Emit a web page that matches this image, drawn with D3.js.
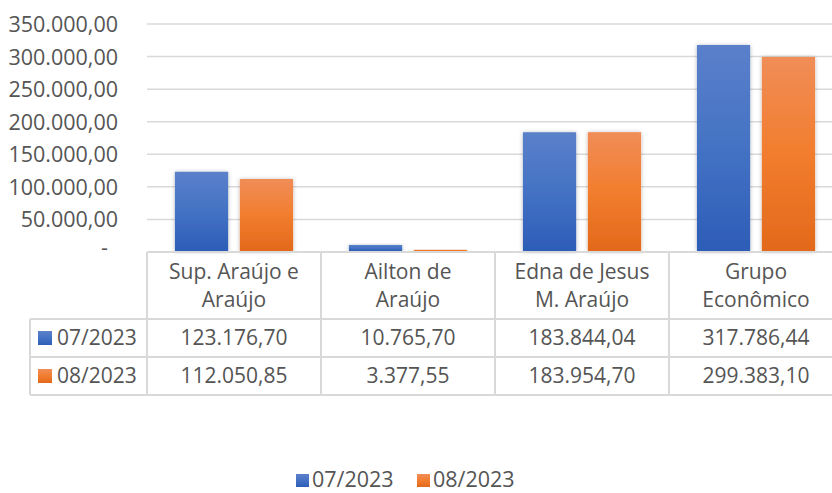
<!DOCTYPE html>
<html>
<head>
<meta charset="utf-8">
<script src="https://cdn.jsdelivr.net/npm/d3@7"></script>
<style>
  html, body { margin: 0; padding: 0; background: #fff; overflow: hidden; }
  svg { display: block; font-family: "Open Sans", "Noto Sans", sans-serif; }
  text { fill: #555; }
</style>
</head>
<body>
<svg id="chart" width="832" height="493"></svg>
<script>
// categorias (quebra de linha como no cabeçalho da tabela)
const categories = ["Sup. Araújo e\nAraújo", "Ailton de\nAraújo", "Edna de Jesus\nM. Araújo", "Grupo\nEconômico"];
const seriesNames = ["07/2023", "08/2023"];
const values0723 = [123176.70, 10765.70, 183844.04, 317786.44];
const values0823 = [112050.85, 3377.55, 183954.70, 299383.10];
const yTicks = [0, 50000, 100000, 150000, 200000, 250000, 300000, 350000];

const series = [
  { name: seriesNames[0], values: values0723 },
  { name: seriesNames[1], values: values0823 }
];

const ptBR = d3.formatLocale({ decimal: ",", thousands: ".", grouping: [3], currency: ["R$", ""] });
const fmt = ptBR.format(",.2f");

const svg = d3.select('#chart');

// --- gradientes e sombra das barras ---
const defs = svg.append('defs');
const grads = [
  { id: 'g0', stops: ['#5b80ca', '#4472c4', '#2d5db7'] },
  { id: 'g1', stops: ['#f08d58', '#f27d2e', '#e2691b'] }
];
grads.forEach(g => {
  const lg = defs.append('linearGradient')
    .attr('id', g.id)
    .attr('x1', 0).attr('y1', 0).attr('x2', 0).attr('y2', 1);
  lg.append('stop').attr('offset', '0%').attr('stop-color', g.stops[0]);
  lg.append('stop').attr('offset', '50%').attr('stop-color', g.stops[1]);
  lg.append('stop').attr('offset', '100%').attr('stop-color', g.stops[2]);
});
const shadow = defs.append('filter').attr('id', 'shadow')
  .attr('x', '-30%').attr('y', '-30%').attr('width', '160%').attr('height', '160%');
shadow.append('feDropShadow')
  .attr('dx', 0).attr('dy', 0.5)
  .attr('stdDeviation', 2)
  .attr('flood-color', '#000')
  .attr('flood-opacity', 0.28);

// --- escalas ---
const plotLeft = 147, plotRight = 843;
const yTop = 24, yZero = 252;

const x = d3.scaleBand()
  .domain(d3.range(categories.length))
  .range([plotLeft, plotRight]);

const x1 = d3.scaleBand()
  .domain(d3.range(series.length))
  .range([0, x.bandwidth()])
  .paddingInner(0.18)
  .paddingOuter(0.43);

const y = d3.scaleLinear()
  .domain([0, 350000])
  .range([yZero, yTop]);

// --- grade ---
svg.append('g')
  .selectAll('line')
  .data(yTicks.filter(d => d > 0))
  .join('line')
  .attr('x1', plotLeft).attr('x2', plotRight)
  .attr('y1', d => y(d)).attr('y2', d => y(d))
  .attr('stroke', '#d9d9d9')
  .attr('stroke-width', 1.5);

// --- eixo Y ---
const yAxis = d3.axisLeft(y)
  .tickValues(yTicks)
  .tickSize(0)
  .tickPadding(0)
  .tickFormat(d => d === 0 ? '-' : fmt(d));

const yg = svg.append('g')
  .attr('transform', 'translate(118,0)')
  .call(yAxis);
yg.select('.domain').remove();
yg.selectAll('text')
  .attr('font-size', 21.5)
  .attr('font-family', '"Open Sans", sans-serif')
  .attr('fill', '#555')
  .attr('dy', '0.35em');
yg.selectAll('.tick').filter(d => d === 0).select('text').attr('dx', -10).attr('dy', '0.1em');

// --- barras ---
const groups = svg.append('g')
  .selectAll('g')
  .data(series)
  .join('g')
  .attr('fill', (d, i) => `url(#g${i})`);

groups.each(function(s, si) {
  d3.select(this).selectAll('rect')
    .data(s.values)
    .join('rect')
    .attr('x', (v, ci) => x(ci) + x1(si))
    .attr('y', v => y(v))
    .attr('width', x1.bandwidth())
    .attr('height', v => yZero - 1 - y(v))
    .attr('filter', 'url(#shadow)');
});

// --- tabela de dados ---
const rowTop = yZero, headerBottom = 319, rowH = 38;
const tableLeft = 30;
const line = '#d9d9d9';
const tbl = svg.append('g').attr('stroke', line).attr('stroke-width', 2);

// linhas horizontais
tbl.append('line').attr('x1', plotLeft).attr('x2', plotRight).attr('y1', rowTop).attr('y2', rowTop);
[0, 1, 2].forEach(r => {
  tbl.append('line')
    .attr('x1', tableLeft).attr('x2', plotRight)
    .attr('y1', headerBottom + r * rowH).attr('y2', headerBottom + r * rowH);
});
// linhas verticais
tbl.append('line').attr('x1', tableLeft).attr('x2', tableLeft)
  .attr('y1', headerBottom).attr('y2', headerBottom + 2 * rowH);
d3.range(categories.length + 1).forEach(i => {
  const xx = plotLeft + i * x.step();
  tbl.append('line').attr('x1', xx).attr('x2', xx)
    .attr('y1', rowTop).attr('y2', headerBottom + 2 * rowH);
});

// cabeçalho
const header = svg.append('g');
categories.forEach((c, i) => {
  const t = header.append('text')
    .attr('x', x(i) + x.bandwidth() / 2)
    .attr('y', 272)
    .attr('text-anchor', 'middle')
    .attr('font-size', 21);
  c.split('\n').forEach((ln, k) => {
    t.append('tspan')
      .attr('x', x(i) + x.bandwidth() / 2)
      .attr('dy', k === 0 ? '0.35em' : 28)
      .text(ln);
  });
});

// linhas de valores
series.forEach((s, si) => {
  const cy = headerBottom + si * rowH + rowH / 2;
  svg.append('rect')
    .attr('x', 38).attr('y', cy - 7)
    .attr('width', 14).attr('height', 14)
    .attr('fill', `url(#g${si})`);
  svg.append('text')
    .attr('x', 57).attr('y', cy)
    .attr('dy', '0.35em')
    .attr('font-size', 21)
    .text(s.name);
  s.values.forEach((v, ci) => {
    svg.append('text')
      .attr('x', x(ci) + x.bandwidth() / 2)
      .attr('y', cy)
      .attr('dy', '0.35em')
      .attr('text-anchor', 'middle')
      .attr('font-size', 21)
      .text(fmt(v));
  });
});

// --- legenda ---
const legendX = [296, 417];
const legend = svg.append('g');
series.forEach((s, si) => {
  legend.append('rect')
    .attr('x', legendX[si]).attr('y', 474)
    .attr('width', 13).attr('height', 13)
    .attr('fill', `url(#g${si})`);
  legend.append('text')
    .attr('x', legendX[si] + 16).attr('y', 479)
    .attr('dy', '0.35em')
    .attr('font-size', 21.5)
    .text(s.name);
});
</script>
</body>
</html>
